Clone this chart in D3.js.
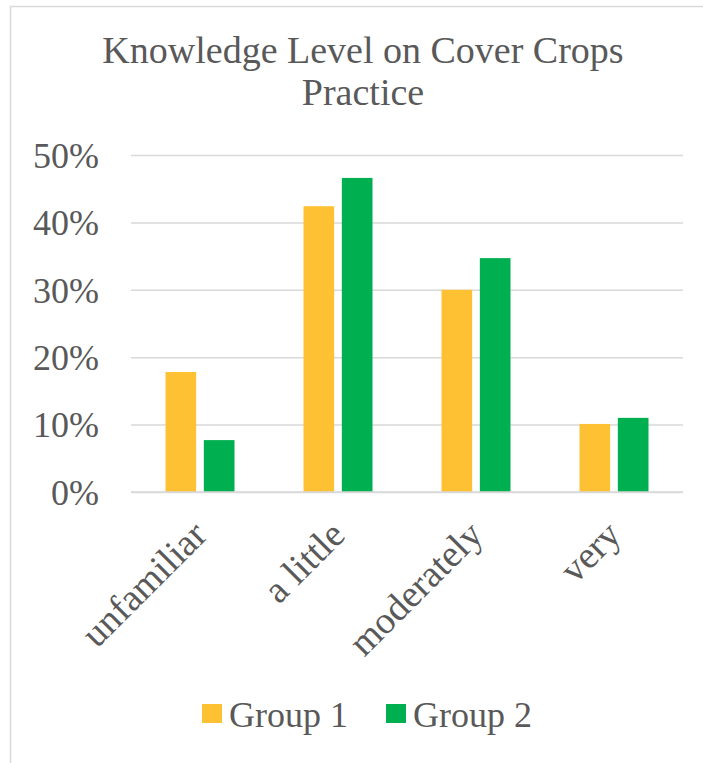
<html>
    <head>
        <title>Knowledge Level on Cover Crops Practice</title>
        <script src="https://cdn.jsdelivr.net/npm/d3@7"></script>
        <style>
            body {
                margin: 0;
                background: #fff;
            }
            text {
                font-family: "Liberation Serif", "Times New Roman", serif;
                fill: #595959;
            }
        </style>
    </head>
    <body>
        <svg id="chart"></svg>
    </body>
    <script>
        // Data
        const CATEGORIES = ["unfamiliar", "a little", "moderately", "very"]
        const GROUPS = ["Group 1", "Group 2"]
        const GROUP1 = [0.178, 0.424, 0.300, 0.101]
        const GROUP2 = [0.077, 0.466, 0.347, 0.110]
        const Y_TICKS = [0, 0.1, 0.2, 0.3, 0.4, 0.5]
        const TITLE = ["Knowledge Level on Cover Crops", "Practice"]

        const COLORS = ["#FFC134", "#00B050"]
        const WIDTH = 703
        const HEIGHT = 763
        const PLOT = {left: 131, right: 683, top: 155, bottom: 492}

        const svg = d3.select("#chart")
            .attr("width", WIDTH)
            .attr("height", HEIGHT)

        // chart frame (only left and top edges show)
        svg.append("path")
            .attr("d", `M10.5,${HEIGHT} V6.5 H${WIDTH}`)
            .attr("fill", "none")
            .attr("stroke", "#d9d9d9")
            .attr("stroke-width", 1.5)

        // title
        svg.append("text")
            .attr("text-anchor", "middle")
            .style("font-size", "38px")
            .selectAll("tspan")
            .data(TITLE)
            .join("tspan")
                .attr("x", 363)
                .attr("y", (d, i) => 63 + i * 42)
                .text(d => d)

        // scales
        const x0 = d3.scaleBand()
            .domain(CATEGORIES)
            .range([PLOT.left, PLOT.right])
            .paddingInner(0.5)
            .paddingOuter(0.25)

        const x1 = d3.scaleBand()
            .domain(GROUPS)
            .range([0, x0.bandwidth()])
            .paddingInner(0.2)

        const y = d3.scaleLinear()
            .domain([0, 0.5])
            .range([PLOT.bottom, PLOT.top])

        // gridlines + y labels
        const yAxis = d3.axisLeft(y)
            .tickValues(Y_TICKS)
            .tickFormat(d3.format(".0%"))
            .tickSize(-(PLOT.right - PLOT.left))
            .tickPadding(32)

        svg.append("g")
            .attr("transform", `translate(${PLOT.left},0)`)
            .call(yAxis)
            .call(g => g.select(".domain").remove())
            .call(g => g.selectAll("line").attr("stroke", "#d9d9d9").attr("stroke-width", 1.5))
            .call(g => g.selectAll("text")
                .attr("fill", "#595959")
                .attr("dy", "0.34em")
                .style("font-size", "36px"))

        // bars
        const rows = CATEGORIES.map((c, i) => ({category: c, values: [GROUP1[i], GROUP2[i]]}))

        svg.append("g")
            .selectAll("g")
            .data(rows)
            .join("g")
                .attr("transform", d => `translate(${x0(d.category)},0)`)
            .selectAll("rect")
            .data(d => d.values.map((v, j) => ({group: GROUPS[j], value: v, color: COLORS[j]})))
            .join("rect")
                .attr("x", d => x1(d.group))
                .attr("y", d => y(d.value))
                .attr("width", x1.bandwidth())
                .attr("height", d => y(0) - y(d.value))
                .attr("fill", d => d.color)

        // redraw baseline over the bars
        svg.append("line")
            .attr("x1", PLOT.left)
            .attr("x2", PLOT.right)
            .attr("y1", y(0))
            .attr("y2", y(0))
            .attr("stroke", "#d9d9d9")
            .attr("stroke-width", 1.5)

        // rotated category labels
        svg.append("g")
            .selectAll("text")
            .data(CATEGORIES)
            .join("text")
                .attr("text-anchor", "end")
                .style("font-size", "38px")
                .attr("transform", d => `translate(${x0(d) + x0.bandwidth() / 2 + 9},${PLOT.bottom + 45}) rotate(-45)`)
                .text(d => d)

        // legend
        const LEGEND_X = [202, 386]
        const legend = svg.append("g")
            .selectAll("g")
            .data(GROUPS)
            .join("g")
                .attr("transform", (d, i) => `translate(${LEGEND_X[i]},704)`)

        legend.append("rect")
            .attr("width", 20)
            .attr("height", 19)
            .attr("fill", (d, i) => COLORS[i])

        legend.append("text")
            .attr("x", 27)
            .attr("y", 23)
            .style("font-size", "36px")
            .text(d => d)
    </script>
</html>
